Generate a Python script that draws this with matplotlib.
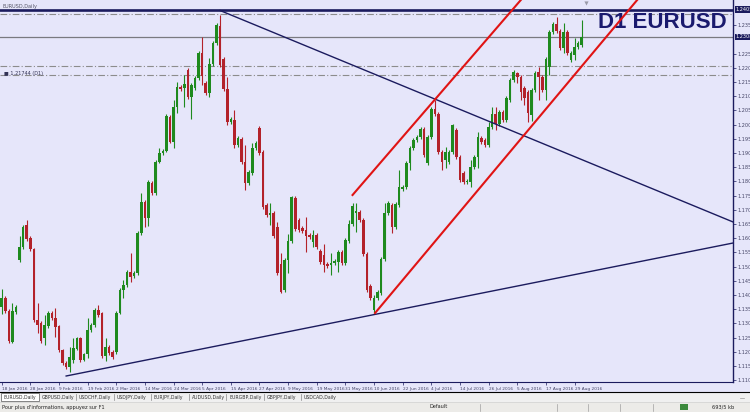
import numpy as np
import matplotlib.pyplot as plt
from matplotlib.patches import Rectangle

# Daily EURUSD candles, in chart points (1 point = 0.005 / 14.2 of price)
o = [93, 102, 89, 58, 88, 140, 153, 175, 162, 151,
     80, 77, 62, 74, 87, 82, 74, 50, 37, 33,
     40, 51, 62, 40, 46, 70, 75, 90, 87, 44,
     53, 48, 48, 87, 110, 115, 128, 124, 127, 167,
     198, 182, 217, 207, 238, 247, 249, 283, 258, 293,
     313, 312, 330, 303, 312, 322, 347, 317, 307, 336,
     357, 374, 341, 311, 278, 280, 255, 261, 238, 217,
     227, 252, 272, 248, 195, 185, 187, 173, 136, 110,
     140, 159, 202, 180, 172, 170, 165, 158, 165, 149,
     145, 136, 135, 137, 138, 148, 137, 159, 176, 187,
     188, 180, 146, 114, 90, 102, 107, 141, 187, 195,
     173, 195, 211, 213, 237, 252, 260, 263, 271, 237,
     263, 291, 286, 248, 240, 238, 248, 270, 243, 227,
     218, 218, 233, 243, 262, 260, 255, 273, 286, 276,
     288, 280, 300, 320, 327, 323, 312, 308, 285, 310,
     328, 323, 310, 333, 368, 376, 369, 352, 368, 340,
     345, 353, 355]
h = [111, 104, 91, 97, 95, 164, 175, 180, 164, 152,
     97, 79, 85, 89, 89, 92, 75, 51, 39, 53,
     62, 63, 63, 47, 82, 77, 92, 95, 88, 62,
     55, 50, 89, 112, 120, 130, 147, 129, 169, 207,
     200, 220, 219, 240, 252, 251, 286, 285, 300, 318,
     315, 325, 332, 317, 324, 349, 363, 319, 342, 359,
     377, 385, 343, 323, 283, 290, 264, 263, 255, 230,
     257, 259, 274, 250, 197, 197, 189, 178, 147, 142,
     166, 204, 204, 182, 174, 183, 167, 170, 167, 151,
     156, 138, 147, 141, 150, 150, 162, 180, 197, 197,
     190, 182, 148, 116, 105, 110, 143, 197, 199, 197,
     198, 230, 215, 239, 254, 262, 265, 273, 273, 265,
     293, 300, 288, 250, 253, 250, 276, 272, 245, 229,
     221, 240, 245, 268, 264, 262, 278, 293, 293, 290,
     290, 304, 322, 330, 328, 325, 314, 310, 312, 329,
     333, 325, 343, 370, 378, 383, 371, 377, 370, 349,
     362, 359, 380]
l = [86, 87, 57, 57, 86, 138, 151, 159, 149, 78,
     67, 57, 55, 72, 80, 63, 48, 35, 31, 28,
     37, 50, 38, 39, 42, 68, 73, 83, 42, 39,
     45, 41, 46, 86, 102, 113, 118, 122, 125, 165,
     173, 174, 205, 205, 237, 245, 248, 257, 252, 287,
     309, 293, 301, 281, 310, 320, 315, 305, 303, 334,
     355, 333, 309, 275, 276, 252, 253, 236, 210, 215,
     225, 250, 245, 191, 183, 175, 162, 125, 107, 108,
     127, 157, 169, 168, 167, 148, 161, 153, 151, 136,
     128, 132, 125, 135, 128, 135, 135, 157, 174, 168,
     178, 144, 108, 100, 87, 100, 105, 139, 185, 167,
     171, 193, 209, 211, 230, 250, 258, 261, 243, 235,
     261, 284, 246, 230, 232, 236, 246, 241, 218, 216,
     216, 213, 231, 232, 256, 253, 253, 271, 270, 274,
     278, 278, 298, 318, 317, 300, 295, 278, 279, 308,
     300, 308, 300, 325, 366, 367, 350, 347, 345, 338,
     340, 351, 353]
c = [102, 89, 59, 89, 93, 153, 173, 161, 151, 80,
     75, 59, 75, 87, 82, 73, 50, 37, 33, 43,
     52, 62, 40, 46, 70, 75, 90, 85, 44, 53,
     47, 43, 87, 110, 115, 128, 123, 127, 167, 198,
     182, 218, 207, 238, 247, 249, 284, 258, 293, 313,
     311, 316, 303, 315, 322, 347, 324, 307, 336, 357,
     375, 335, 311, 278, 281, 255, 262, 238, 217, 228,
     252, 257, 247, 193, 185, 187, 164, 127, 108, 140,
     159, 203, 171, 170, 169, 164, 163, 165, 153, 138,
     135, 134, 137, 139, 148, 137, 160, 176, 194, 189,
     180, 146, 110, 102, 102, 108, 141, 187, 197, 173,
     196, 213, 213, 237, 252, 260, 263, 271, 245, 263,
     291, 286, 248, 238, 248, 248, 275, 243, 220, 218,
     219, 233, 243, 263, 258, 255, 273, 286, 276, 288,
     280, 302, 320, 328, 323, 308, 302, 287, 310, 327,
     323, 310, 341, 368, 376, 369, 352, 368, 347, 347,
     353, 357, 363]

date_labels = ["18 Jan 2016", "28 Jan 2016", "9 Feb 2016", "19 Feb 2016",
               "2 Mar 2016", "14 Mar 2016", "24 Mar 2016", "5 Apr 2016",
               "15 Apr 2016", "27 Apr 2016", "9 May 2016", "19 May 2016",
               "31 May 2016", "10 Jun 2016", "22 Jun 2016", "4 Jul 2016",
               "14 Jul 2016", "26 Jul 2016", "5 Aug 2016", "17 Aug 2016",
               "29 Aug 2016"]
date_every = 8

# horizontal levels (points)
level_navy = 390.5
level_solid = 363
levels_dashdot = [386, 334, 325]

# trendlines as (bars, points)
trend_down = ([61, 204.3], [389.5, 178])
trend_up = ([18, 204.3], [24, 157])
channel_low = ([104.3, 177.5], [87, 400])
channel_high = ([98.0, 145.0], [205, 400])

P0 = 1.1030
PT = 0.005 / 14.2


def price(v):
    return P0 + np.asarray(v, dtype=float) * PT


BG = '#e6e6fa'
NAVY = '#1b1b5e'
GREEN = '#1e8a1e'
RED = '#b3222a'
CHAN = '#e01414'

fig = plt.figure(figsize=(7.5, 4.12), dpi=100, facecolor=BG)
ax = fig.add_axes([0, 30 / 412, 733 / 750, 382 / 412], facecolor=BG)

x = np.arange(len(o))
O, H, L, C = price(o), price(h), price(l), price(c)
cols = np.where(C >= O, GREEN, RED)
ax.vlines(x, L, H, colors=cols, lw=0.8, zorder=2)
ax.bar(x, np.maximum(np.abs(C - O), PT * 0.9), 0.72, bottom=np.minimum(O, C),
       color=cols, linewidth=0, zorder=3)

ax.axhline(price(level_navy), color=NAVY, lw=1.9, zorder=4)
ax.axhline(price(level_solid), color='#7a7a80', lw=0.9, zorder=1)
for lv in levels_dashdot:
    ax.axhline(price(lv), color='#8c8c8c', lw=0.8, ls=(0, (6, 2, 1, 2)), zorder=1)

ax.text(0.816, 0.941, "D1 EURUSD", transform=ax.transAxes, ha='left', va='center',
        fontsize=16, fontweight='bold', color='#1a1a6e', family='Liberation Sans', zorder=4)

for xs, ys in (trend_down, trend_up):
    ax.plot(xs, price(ys), color=NAVY, lw=1.0, zorder=5)
for xs, ys in (channel_low, channel_high):
    ax.plot(xs, price(ys), color=CHAN, lw=1.5, zorder=6)

ax.text(0.005, price(327), f"\u25a0 {price(levels_dashdot[2]):.5f} (D1)", fontsize=3.6,
        color='#333355', va='center', ha='left', transform=ax.get_yaxis_transform())
ax.text(0.004, 0.984, "EURUSD,Daily", transform=ax.transAxes, fontsize=3.6,
        color='#555566', va='center', ha='left')

ax.set_xlim(-0.475, 204.27)
ax.set_ylim(price(18), price(400))

# axes styling
for s in ('top', 'left'):
    ax.spines[s].set_visible(False)
ax.spines['right'].set_color(NAVY)
ax.spines['bottom'].set_color(NAVY)
ax.spines['right'].set_linewidth(1.0)
ax.spines['bottom'].set_linewidth(0.8)

# price scale, leaving room for the two highlighted level labels
yt = [v for v in np.arange(1.1100, 1.2401, 0.005)
      if min(abs(v - price(level_navy)), abs(v - price(level_solid))) > 8 * PT]
ax.yaxis.tick_right()
ax.set_yticks(yt)
ax.set_yticklabels([f"{v:.5f}" for v in yt])
ax.tick_params(axis='y', direction='out', length=2, width=0.5, color=NAVY,
               labelsize=3.6, labelcolor='#444466', pad=1.5)
for lv in (level_navy, level_solid):
    ax.text(1.004, price(lv), f"{price(lv):.5f}", transform=ax.get_yaxis_transform(),
            fontsize=3.6, color='white', va='center', ha='left', clip_on=False,
            bbox=dict(boxstyle='square,pad=0.15', fc=NAVY, ec='none'))

xt = np.arange(0, len(o), date_every)[:len(date_labels)]
ax.set_xticks(xt)
ax.set_xticklabels(date_labels[:len(xt)], ha='left')
ax.tick_params(axis='x', direction='out', length=2, width=0.5, color=NAVY,
               labelsize=3.1, labelcolor='#444466', pad=1.5)

# terminal chrome: tabs and status bar
ui = fig.add_axes([0, 0, 1, 1], zorder=10)
ui.set_xlim(0, 750)
ui.set_ylim(412, 0)
ui.axis('off')
ui.patch.set_alpha(0)
ui.plot([586], [2.5], marker='v', ms=3, color='#9a9aa8', mec='none')

ui.add_patch(Rectangle((0, 392), 750, 10, fc='#f0f0f0', ec='none'))
ui.plot([0, 750], [392, 392], color='black', lw=0.8)
tabs = ["EURUSD,Daily", "GBPUSD,Daily", "USDCHF,Daily", "USDJPY,Daily",
        "EURJPY,Daily", "AUDUSD,Daily", "EURGBP,Daily", "GBPJPY,Daily", "USDCAD,Daily"]
for i, t in enumerate(tabs):
    x0 = 1 + i * 37.5
    if i == 0:
        ui.add_patch(Rectangle((x0, 392.5), 38, 8.5, fc='white', ec='#555555', lw=0.5))
    else:
        ui.plot([x0, x0], [394, 400], color='#888888', lw=0.5)
    ui.text(x0 + 3, 397, t, fontsize=3.3, color='#333333', va='center', ha='left')
ui.plot([740, 744], [398, 398], color='#999999', lw=0.5)

ui.add_patch(Rectangle((0, 402), 750, 10, fc='#ecebe8', ec='none'))
ui.plot([0, 750], [402.3, 402.3], color='#d0d0d0', lw=0.5)
ui.text(2, 407, "Pour plus d'informations, appuyez sur F1", fontsize=3.6,
        color='#222222', va='center', ha='left')
ui.text(430, 407, "Default", fontsize=3.6, color='#222222', va='center', ha='left')
for sx in (480, 557, 588, 620, 653):
    ui.plot([sx, sx], [403.5, 411], color='#a0a0a0', lw=0.5)
ui.add_patch(Rectangle((680, 404), 8, 6, fc='#3c8a3c', ec='none'))
ui.text(712, 407, "693/5 kb", fontsize=3.6, color='#222222', va='center', ha='left')

fig.savefig('out.png', dpi=100, facecolor=BG)
